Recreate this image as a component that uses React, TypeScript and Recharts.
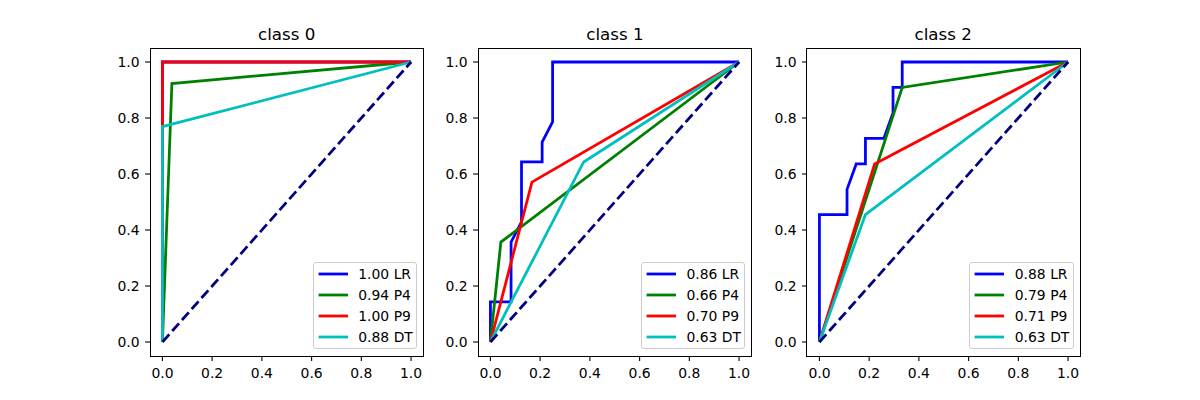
import React from 'react';
import { LineChart, Line, XAxis, YAxis, Legend } from 'recharts';

const classTitles = ['class 0', 'class 1', 'class 2'];
const modelNames = ['LR', 'P4', 'P9', 'DT'];
const modelColors = ['#0000ff', '#008000', '#ff0000', '#00bfbf'];
const aucScores = [
  [1.0, 0.94, 1.0, 0.88],
  [0.86, 0.66, 0.7, 0.63],
  [0.88, 0.79, 0.71, 0.63],
];
const axisTicks = [0, 0.2, 0.4, 0.6, 0.8, 1.0];

// class 0: false positive rate / true positive rate per model
const fpr0LR = [0, 0, 1];
const tpr0LR = [0, 1, 1];
const fpr0P4 = [0, 0.038, 1];
const tpr0P4 = [0, 0.923, 1];
const fpr0P9 = [0, 0, 1];
const tpr0P9 = [0, 1, 1];
const fpr0DT = [0, 0, 1];
const tpr0DT = [0, 0.769, 1];

// class 1
const fpr1LR = [0, 0, 0.083, 0.083, 0.125, 0.125, 0.208, 0.208, 0.25, 0.25, 1];
const tpr1LR = [0, 0.143, 0.143, 0.357, 0.429, 0.643, 0.643, 0.714, 0.786, 1, 1];
const fpr1P4 = [0, 0.042, 1];
const tpr1P4 = [0, 0.357, 1];
const fpr1P9 = [0, 0.167, 1];
const tpr1P9 = [0, 0.571, 1];
const fpr1DT = [0, 0.375, 1];
const tpr1DT = [0, 0.643, 1];

// class 2
const fpr2LR = [0, 0, 0.111, 0.111, 0.148, 0.185, 0.185, 0.259, 0.296, 0.296, 0.333, 0.333, 1];
const tpr2LR = [0, 0.455, 0.455, 0.545, 0.636, 0.636, 0.727, 0.727, 0.818, 0.909, 0.909, 1, 1];
const fpr2P4 = [0, 0.333, 1];
const tpr2P4 = [0, 0.909, 1];
const fpr2P9 = [0, 0.222, 1];
const tpr2P9 = [0, 0.636, 1];
const fpr2DT = [0, 0.185, 1];
const tpr2DT = [0, 0.455, 1];

const chanceX = [0, 1];
const chanceY = [0, 1];

const curves = [
  [[fpr0LR, tpr0LR], [fpr0P4, tpr0P4], [fpr0P9, tpr0P9], [fpr0DT, tpr0DT]],
  [[fpr1LR, tpr1LR], [fpr1P4, tpr1P4], [fpr1P9, tpr1P9], [fpr1DT, tpr1DT]],
  [[fpr2LR, tpr2LR], [fpr2P4, tpr2P4], [fpr2P9, tpr2P9], [fpr2DT, tpr2DT]],
];

const toPoints = (xs: number[], ys: number[]) => xs.map((x, i) => ({ x, y: ys[i] }));

const FONT = '"DejaVu Sans", sans-serif';
const frameLefts = [150, 478.2, 806.5];
const plotW = 273.5;
const plotTop = 48;
const plotH = 308;
const yAxisW = 50;
const rightPad = 10;

const tickStyle = { fill: '#000', fontSize: 13.9, fontFamily: FONT };

// keep the legend in plotting order, not alphabetical
const modelOrder = (label: string) => modelNames.indexOf(label.split(' ')[1]);

function RocLegend(props: any) {
  const items = (props.payload || [])
    .filter((p: any) => p.type !== 'none' && p.value)
    .slice()
    .sort((a: any, b: any) => modelOrder(a.value) - modelOrder(b.value));
  return (
    <div
      style={{
        position: 'relative',
        width: 104.6,
        height: 87.3,
        boxSizing: 'border-box',
        border: '1px solid #cccccc',
        borderRadius: 3,
        background: 'rgba(255,255,255,0.8)',
        fontFamily: FONT,
        fontSize: 13.9,
        color: '#000',
      }}
    >
      {items.map((item: any, i: number) => (
        <div key={item.value} style={{ position: 'absolute', left: 0, top: 11.6 + i * 20.9 - 10, height: 20, width: '100%' }}>
          <svg style={{ position: 'absolute', left: 0, top: 0 }} width={40} height={20}>
            <line x1={4.6} x2={34} y1={10} y2={10} stroke={item.color} strokeWidth={2.78} />
          </svg>
          <div style={{ position: 'absolute', left: 44.6, top: 0, lineHeight: '20px', whiteSpace: 'nowrap' }}>{item.value}</div>
        </div>
      ))}
    </div>
  );
}

function RocPanel({ idx }: { idx: number }) {
  const left = frameLefts[idx] - yAxisW;
  return (
    <div style={{ position: 'absolute', left, top: 0, width: plotW + yAxisW + rightPad, height: 400 }}>
      <div
        style={{
          position: 'absolute',
          left: yAxisW,
          width: plotW,
          top: 25.6,
          textAlign: 'center',
          fontFamily: FONT,
          fontSize: 16.7,
          lineHeight: 1,
          color: '#000',
        }}
      >
        {classTitles[idx]}
      </div>
      <LineChart width={plotW + yAxisW + rightPad} height={400} margin={{ top: plotTop, right: rightPad, left: 0, bottom: 14 }}>
        <XAxis
          type="number"
          dataKey="x"
          domain={[-0.05, 1.05]}
          ticks={axisTicks}
          allowDataOverflow
          tickFormatter={(v: number) => v.toFixed(1)}
          height={30}
          tickSize={4.9}
          tickMargin={7}
          tick={tickStyle}
          axisLine={false}
          tickLine={{ stroke: '#000', strokeWidth: 1.1 }}
        />
        <YAxis
          type="number"
          domain={[-0.05, 1.05]}
          ticks={axisTicks}
          allowDataOverflow
          tickFormatter={(v: number) => v.toFixed(1)}
          width={yAxisW}
          tickSize={4.9}
          tickMargin={5.5}
          tick={tickStyle}
          axisLine={false}
          tickLine={{ stroke: '#000', strokeWidth: 1.1 }}
        />
        {curves[idx].map(([xs, ys], m) => (
          <Line
            key={modelNames[m]}
            type="linear"
            data={toPoints(xs, ys)}
            dataKey="y"
            name={`${aucScores[idx][m].toFixed(2)} ${modelNames[m]}`}
            stroke={modelColors[m]}
            strokeWidth={2.78}
            dot={false}
            activeDot={false}
            isAnimationActive={false}
          />
        ))}
        <Line
          type="linear"
          data={toPoints(chanceX, chanceY)}
          dataKey="y"
          stroke="#000080"
          strokeWidth={2.78}
          strokeDasharray="10.3 4.4"
          dot={false}
          activeDot={false}
          legendType="none"
          isAnimationActive={false}
        />
        <Legend
          layout="vertical"
          align="center"
          verticalAlign="middle"
          content={<RocLegend />}
          wrapperStyle={{ left: 212.7, top: 261.7, width: 104.6, height: 87.3, right: 'auto', bottom: 'auto' }}
        />
      </LineChart>
      {/* axes frame (all four spines) */}
      <div
        style={{
          position: 'absolute',
          left: yAxisW - 0.5,
          top: plotTop - 0.5,
          width: plotW + 1,
          height: plotH + 1,
          boxSizing: 'border-box',
          border: '1.1px solid #000',
          pointerEvents: 'none',
        }}
      />
    </div>
  );
}

export default function App() {
  return (
    <div style={{ position: 'absolute', left: 0, top: 0, width: 1200, height: 400, background: '#fff' }}>
      {[0, 1, 2].map((i) => (
        <RocPanel key={i} idx={i} />
      ))}
    </div>
  );
}
